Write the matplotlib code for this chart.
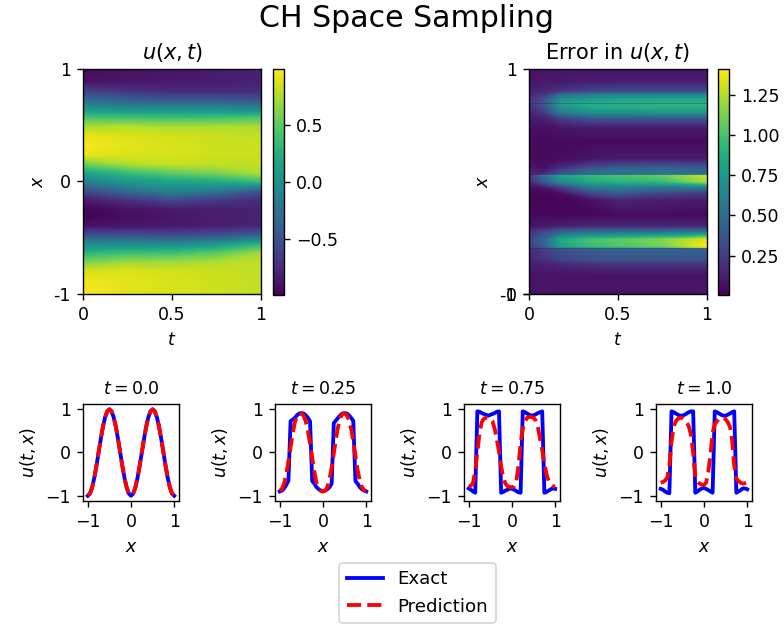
import numpy as np
import matplotlib
matplotlib.use("Agg")
import matplotlib.pyplot as plt

# ---- heatmap u(x,t): columns in t, rows in x (read top -> bottom) ----
u_t = [0.0, 0.25, 0.5, 0.75, 1.0]
u_rows_from_top = [0.0, 0.06, 0.10, 0.14, 0.18, 0.22, 0.26, 0.30, 0.34, 0.38, 0.42, 0.46, 0.50,
                   0.54, 0.58, 0.62, 0.66, 0.70, 0.74, 0.78, 0.82, 0.86, 0.90, 0.94, 1.0]
u_t000 = [-0.95, -0.9, -0.6, -0.3, 0.05, 0.45, 0.75, 0.92, 0.98, 0.92, 0.55, 0.15, -0.15,
          -0.55, -0.85, -0.97, -0.99, -0.9, -0.5, -0.05, 0.3, 0.6, 0.85, 0.95, 0.98]
u_t025 = [-0.9, -0.88, -0.7, -0.4, 0.0, 0.42, 0.78, 0.88, 0.9, 0.88, 0.75, 0.35, 0.05,
          -0.3, -0.7, -0.9, -0.92, -0.88, -0.5, -0.05, 0.38, 0.7, 0.88, 0.9, 0.9]
u_t050 = [-0.88, -0.86, -0.75, -0.45, 0.0, 0.4, 0.75, 0.85, 0.87, 0.87, 0.82, 0.5, 0.15,
          -0.1, -0.55, -0.85, -0.88, -0.86, -0.55, -0.05, 0.4, 0.7, 0.85, 0.87, 0.87]
u_t075 = [-0.85, -0.84, -0.75, -0.45, -0.02, 0.42, 0.75, 0.83, 0.84, 0.84, 0.8, 0.6, 0.2,
          -0.2, -0.65, -0.83, -0.84, -0.83, -0.5, 0.05, 0.5, 0.75, 0.83, 0.84, 0.84]
u_t100 = [-0.8, -0.8, -0.75, -0.5, -0.05, 0.45, 0.75, 0.8, 0.82, 0.82, 0.8, 0.75, 0.35,
          -0.45, -0.75, -0.8, -0.8, -0.78, -0.4, 0.3, 0.7, 0.8, 0.8, 0.8, 0.8]

# ---- heatmap of the error ----
err_t = [0.0, 0.08, 0.18, 0.35, 0.5, 0.75, 1.0]
err_rows_from_top = [0.0, 0.06, 0.10, 0.12, 0.14, 0.149, 0.153, 0.157, 0.17, 0.195, 0.22, 0.26,
                     0.32, 0.40, 0.435, 0.455, 0.465, 0.469, 0.473, 0.50, 0.525, 0.55, 0.58,
                     0.65, 0.70, 0.725, 0.76, 0.785, 0.793, 0.797, 0.801, 0.84, 0.87, 0.91, 1.0]
err_t000 = [0.08, 0.08, 0.12, 0.16, 0.2, 0.2, 0.01, 0.2, 0.18, 0.14, 0.1, 0.06,
            0.04, 0.04, 0.08, 0.12, 0.14, 0.01, 0.2, 0.15, 0.06, 0.03, 0.02, 0.03, 0.08, 0.2,
            0.28, 0.25, 0.2, 0.01, 0.15, 0.15, 0.1, 0.08, 0.08]
err_t008 = [0.08, 0.1, 0.15, 0.25, 0.35, 0.35, 0.01, 0.35, 0.32, 0.22, 0.12, 0.06,
            0.04, 0.04, 0.06, 0.1, 0.15, 0.01, 0.5, 0.38, 0.08, 0.03, 0.02, 0.03, 0.1, 0.3,
            0.45, 0.42, 0.35, 0.01, 0.25, 0.2, 0.12, 0.08, 0.08]
err_t018 = [0.08, 0.1, 0.22, 0.55, 0.72, 0.75, 0.01, 0.78, 0.72, 0.55, 0.25, 0.08,
            0.04, 0.05, 0.15, 0.3, 0.35, 0.01, 0.8, 0.65, 0.25, 0.06, 0.02, 0.03, 0.12, 0.45,
            0.85, 0.82, 0.65, 0.01, 0.35, 0.3, 0.15, 0.08, 0.08]
err_t035 = [0.08, 0.12, 0.3, 0.65, 0.8, 0.83, 0.01, 0.88, 0.84, 0.66, 0.35, 0.1,
            0.04, 0.08, 0.3, 0.48, 0.48, 0.01, 0.95, 0.85, 0.55, 0.3, 0.06, 0.03, 0.15, 0.5,
            1.0, 0.97, 0.8, 0.01, 0.42, 0.36, 0.18, 0.08, 0.08]
err_t050 = [0.08, 0.12, 0.32, 0.68, 0.84, 0.86, 0.01, 0.9, 0.86, 0.68, 0.36, 0.1,
            0.04, 0.1, 0.35, 0.52, 0.52, 0.01, 1.0, 0.9, 0.6, 0.4, 0.15, 0.04, 0.15, 0.52,
            1.05, 1.02, 0.85, 0.01, 0.44, 0.38, 0.2, 0.08, 0.08]
err_t075 = [0.08, 0.12, 0.32, 0.7, 0.86, 0.88, 0.01, 0.92, 0.88, 0.7, 0.36, 0.1,
            0.04, 0.1, 0.38, 0.52, 0.52, 0.01, 1.08, 0.95, 0.55, 0.3, 0.12, 0.04, 0.15, 0.52,
            1.15, 1.12, 0.95, 0.01, 0.44, 0.38, 0.2, 0.08, 0.08]
err_t100 = [0.08, 0.12, 0.32, 0.7, 0.86, 0.88, 0.01, 0.92, 0.88, 0.7, 0.36, 0.1,
            0.04, 0.1, 0.35, 0.48, 0.48, 0.01, 1.3, 1.22, 0.6, 0.25, 0.1, 0.04, 0.15, 0.55,
            1.35, 1.41, 1.25, 0.01, 0.44, 0.36, 0.2, 0.08, 0.08]

# ---- slices: exact vs prediction ----
x_pts = [-1.0, -0.95, -0.9, -0.85, -0.8, -0.75, -0.7, -0.65, -0.6, -0.55, -0.5, -0.45, -0.4,
         -0.35, -0.3, -0.25, -0.2, -0.15, -0.1, -0.05, 0.0, 0.05, 0.1, 0.15, 0.2, 0.25, 0.3,
         0.35, 0.4, 0.45, 0.5, 0.55, 0.6, 0.65, 0.7, 0.75, 0.8, 0.85, 0.9, 0.95, 1.0]
slice_times = ["0.0", "0.25", "0.75", "1.0"]

exact_t0 = [-1.0, -0.95, -0.81, -0.59, -0.31, 0.0, 0.31, 0.59, 0.81, 0.95, 1.0, 0.95, 0.81,
            0.59, 0.31, 0.0, -0.31, -0.59, -0.81, -0.95, -1.0, -0.95, -0.81, -0.59, -0.31, 0.0,
            0.31, 0.59, 0.81, 0.95, 1.0, 0.95, 0.81, 0.59, 0.31, 0.0, -0.31, -0.59, -0.81,
            -0.95, -1.0]
pred_t0 = [-0.99, -0.95, -0.81, -0.59, -0.31, 0.0, 0.31, 0.59, 0.81, 0.95, 0.99, 0.95, 0.81,
           0.59, 0.31, 0.0, -0.31, -0.59, -0.81, -0.95, -0.99, -0.95, -0.81, -0.59, -0.31, 0.0,
           0.31, 0.59, 0.81, 0.95, 0.99, 0.95, 0.81, 0.59, 0.31, 0.0, -0.31, -0.59, -0.81,
           -0.95, -0.99]
exact_t025 = [-0.9, -0.88, -0.83, -0.75, -0.65, 0.72, 0.76, 0.8, 0.86, 0.9, 0.91, 0.9, 0.86,
              0.8, 0.72, -0.66, -0.72, -0.8, -0.85, -0.88, -0.9, -0.88, -0.85, -0.8, -0.72,
              0.68, 0.74, 0.8, 0.86, 0.9, 0.91, 0.9, 0.86, 0.8, 0.73, -0.66, -0.72, -0.8,
              -0.85, -0.88, -0.9]
pred_t025 = [-0.88, -0.84, -0.72, -0.5, -0.2, 0.12, 0.45, 0.7, 0.84, 0.9, 0.9, 0.85, 0.72,
             0.5, 0.2, -0.12, -0.45, -0.7, -0.83, -0.89, -0.9, -0.88, -0.8, -0.62, -0.35,
             -0.02, 0.32, 0.6, 0.8, 0.89, 0.9, 0.86, 0.75, 0.55, 0.25, -0.08, -0.4, -0.65,
             -0.8, -0.87, -0.89]
exact_t075 = [-0.83, -0.86, -0.9, -0.93, 0.95, 0.94, 0.91, 0.89, 0.87, 0.85, 0.87, 0.89, 0.91,
              0.94, 0.95, -0.93, -0.91, -0.88, -0.86, -0.83, -0.84, -0.86, -0.89, -0.92, -0.93,
              0.95, 0.93, 0.9, 0.87, 0.85, 0.86, 0.88, 0.91, 0.93, 0.95, -0.93, -0.91, -0.88,
              -0.85, -0.83, -0.84]
pred_t075 = [-0.78, -0.77, -0.7, -0.42, 0.0, 0.45, 0.7, 0.78, 0.8, 0.8, 0.78, 0.72, 0.55,
             0.3, 0.02, -0.32, -0.58, -0.72, -0.78, -0.8, -0.8, -0.78, -0.68, -0.3, 0.2, 0.55,
             0.72, 0.8, 0.82, 0.82, 0.8, 0.74, 0.58, 0.32, 0.05, -0.25, -0.5, -0.66, -0.74,
             -0.78, -0.79]
exact_t100 = [-0.84, -0.86, -0.9, -0.93, -0.94, 0.95, 0.93, 0.9, 0.87, 0.85, 0.85, 0.87, 0.9,
              0.93, 0.95, 0.95, -0.93, -0.9, -0.86, -0.83, -0.82, -0.84, -0.87, -0.9, -0.93,
              0.95, 0.93, 0.9, 0.87, 0.85, 0.85, 0.87, 0.9, 0.93, 0.95, -0.93, -0.9, -0.87,
              -0.83, -0.83, -0.85]
pred_t100 = [-0.7, -0.68, -0.65, -0.58, -0.3, 0.25, 0.6, 0.72, 0.78, 0.8, 0.8, 0.77, 0.7,
             0.6, 0.4, 0.0, -0.55, -0.68, -0.72, -0.74, -0.75, -0.7, -0.45, -0.05, 0.45, 0.65,
             0.72, 0.78, 0.8, 0.8, 0.77, 0.7, 0.6, 0.3, -0.3, -0.6, -0.66, -0.7, -0.72, -0.71,
             -0.7]

exact_slices = [exact_t0, exact_t025, exact_t075, exact_t100]
pred_slices = [pred_t0, pred_t025, pred_t075, pred_t100]

fig = plt.figure(figsize=(6.272, 5.016), dpi=125)
fig.suptitle("CH Space Sampling", x=0.518, y=0.993, fontsize="xx-large")

# top row: heatmaps
ax_u = fig.add_axes([0.1059, 0.5311, 0.2270, 0.3589])
cax_u = fig.add_axes([0.3482, 0.5295, 0.0140, 0.3605])
ax_e = fig.add_axes([0.6747, 0.5311, 0.2270, 0.3589])
cax_e = fig.add_axes([0.9158, 0.5295, 0.0140, 0.3605])

U = np.column_stack([u_t000, u_t025, u_t050, u_t075, u_t100])
u_x = 1 - 2 * np.array(u_rows_from_top)
cs_u = ax_u.contourf(u_t, u_x, U, levels=np.linspace(-0.99, 0.99, 257), cmap="viridis")
fig.colorbar(cs_u, cax=cax_u, ticks=[-0.5, 0.0, 0.5])
ax_u.set_title("$u(x,t)$")

E = np.column_stack([err_t000, err_t008, err_t018, err_t035, err_t050, err_t075, err_t100])
e_x = 1 - 2 * np.array(err_rows_from_top)
cs_e = ax_e.contourf(err_t, e_x, E, levels=np.linspace(0.005, 1.41, 257), cmap="viridis")
fig.colorbar(cs_e, cax=cax_e, ticks=[0.25, 0.5, 0.75, 1.0, 1.25])
ax_e.set_title("Error in $u(x,t)$")

for ax in (ax_u, ax_e):
    ax.set_xlim(0, 1)
    ax.set_ylim(-1, 1)
    ax.set_xticks([0, 0.5, 1], ["0", "0.5", "1"])
    ax.set_xlabel("$t$")
    ax.set_ylabel("$x$")
ax_u.set_yticks([1, 0, -1], ["1", "0", "-1"])
# labels end up stacked at the bottom on the error map
ax_e.set_yticks([1, -1, -0.9999], ["1", "0", "-1"])

# bottom row: slices
lefts = [0.1059, 0.3508, 0.5918, 0.8367]
for i in range(4):
    ax = fig.add_axes([lefts[i], 0.2010, 0.1224, 0.1547])
    l1, = ax.plot(x_pts, exact_slices[i], color="b", linestyle="-", linewidth=2.2, label="Exact")
    l2, = ax.plot(x_pts, pred_slices[i], color="r", linestyle="--", linewidth=2.2, label="Prediction")
    ax.set_xlim(-1.11, 1.11)
    ax.set_ylim(-1.12, 1.12)
    ax.set_xticks([-1, 0, 1])
    ax.set_yticks([-1, 0, 1])
    ax.set_xlabel("$x$")
    ax.set_ylabel("$u(t,x)$")
    ax.set_title("$t = " + slice_times[i] + "$", fontsize=10)

fig.legend([l1, l2], ["Exact", "Prediction"], loc="center", bbox_to_anchor=(0.5325, 0.0542),
           fontsize=10.5)

fig.savefig("out.png", dpi=125)
